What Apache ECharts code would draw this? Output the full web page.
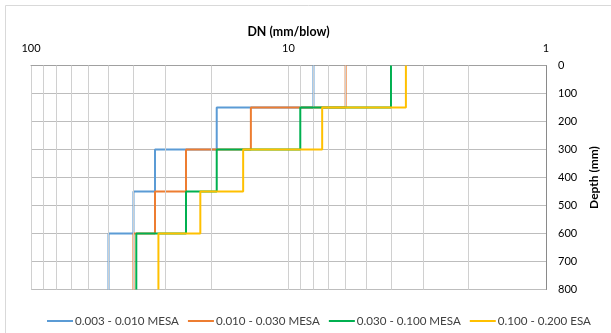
<!DOCTYPE html>
<html>
<head>
<meta charset="utf-8">
<script src="https://cdn.jsdelivr.net/npm/echarts@6/dist/echarts.min.js"></script>
<style>
html,body{margin:0;padding:0;background:#fff;}
#c{width:611px;height:333px;}
</style>
</head>
<body>
<div id="c"></div>
<script>
// Layer boundaries (depth, mm)
const depths = [0, 150, 300, 450, 600, 800];
// DN values (mm/blow) per layer
const seriesNames = ['0.003 - 0.010 MESA', '0.010 - 0.030 MESA', '0.030 - 0.100 MESA', '0.100 - 0.200 ESA'];
const dnBlue   = [8, 19, 33, 40, 50];
const dnOrange = [6, 14, 25, 33, 40];
const dnGreen  = [4, 9, 19, 25, 39];
const dnYellow = [3.5, 7.4, 15, 22, 32];
const colors = ['#5B9BD5', '#ED7D31', '#00B050', '#FFC000'];
const xTickLabels = [1, 10, 100];
const minorGrid = [2,3,4,5,6,7,8,9,20,30,40,50,60,70,80,90];

function profile(vals){
  const pts = [];
  for (let i = 0; i < vals.length; i++){
    pts.push([vals[i], depths[i]]);
    pts.push([vals[i], depths[i+1]]);
  }
  return pts;
}

const allVals = [dnBlue, dnOrange, dnGreen, dnYellow];
const font = 'Lato';

const series = allVals.map((v, i) => ({
  name: seriesNames[i],
  type: 'line',
  data: profile(v),
  showSymbol: false,
  symbol: 'none',
  lineStyle: {color: colors[i], width: 2},
  itemStyle: {color: colors[i]},
  z: 3 + i
}));

series.unshift({
  name: 'grid',
  type: 'line',
  data: [[1, 0]],
  symbol: 'none',
  lineStyle: {opacity: 0},
  silent: true,
  z: 1,
  markLine: {
    silent: true,
    symbol: ['none', 'none'],
    label: {show: false},
    lineStyle: {color: '#d0d0d0', width: 1, type: 'solid'},
    emphasis: {disabled: true},
    animation: false,
    data: minorGrid.map(v => ({xAxis: v}))
  }
});

const chart = echarts.init(document.getElementById('c'), null, {renderer: 'canvas'});
chart.setOption({
  animation: false,
  backgroundColor: '#fff',
  textStyle: {fontFamily: font},
  graphic: [{
    type: 'rect',
    shape: {x: 5.5, y: 5.5, width: 700, height: 400},
    style: {fill: 'none', stroke: '#d9d9d9', lineWidth: 1},
    silent: true,
    z: -10
  }],
  grid: {left: 31, right: 65, top: 65.5, bottom: 43.5, containLabel: false},
  legend: {
    data: seriesNames,
    left: 42,
    top: 310,
    icon: 'rect',
    itemWidth: 26,
    itemHeight: 2,
    itemGap: 9,
    textStyle: {fontFamily: font, fontSize: 11.6, color: '#404040', padding: [0, 0, 0, -3]},
    selectedMode: false
  },
  xAxis: {
    type: 'log',
    logBase: 10,
    min: 1,
    max: 100,
    inverse: true,
    position: 'top',
    name: 'DN (mm/blow)',
    nameLocation: 'middle',
    nameGap: 27,
    nameTextStyle: {fontFamily: font, fontSize: 12.4, fontWeight: 'bold', color: '#000'},
    axisLine: {show: true, lineStyle: {color: '#a0a0a0', width: 1}},
    axisTick: {show: false},
    axisLabel: {
      margin: 12,
      fontFamily: font, fontSize: 11, color: '#000',
      formatter: v => xTickLabels.includes(Math.round(v)) ? String(Math.round(v)) : ''
    },
    splitLine: {show: true, lineStyle: {color: '#d0d0d0', width: 1}}
  },
  yAxis: {
    type: 'value',
    min: 0,
    max: 800,
    interval: 100,
    inverse: true,
    position: 'right',
    name: 'Depth (mm)',
    nameLocation: 'middle',
    nameRotate: 90,
    nameGap: 39,
    nameTextStyle: {fontFamily: font, fontSize: 12, fontWeight: 'bold', color: '#000'},
    axisLine: {show: true, lineStyle: {color: '#8a8a8a', width: 1}},
    axisTick: {show: false},
    axisLabel: {margin: 12, fontFamily: font, fontSize: 11, color: '#000', align: 'left'},
    splitLine: {show: true, lineStyle: {color: '#bdbdbd', width: 1}}
  },
  series: series
});
</script>
</body>
</html>
